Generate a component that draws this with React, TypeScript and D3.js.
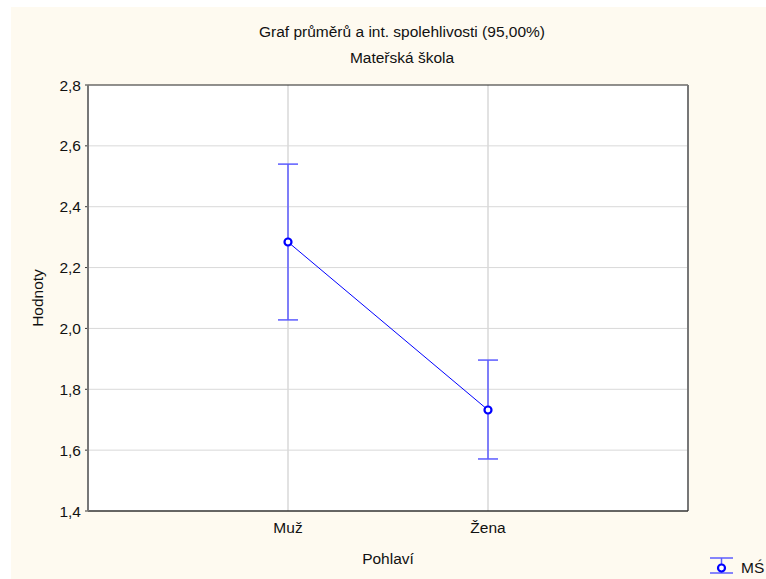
import React from "react";
import * as d3 from "d3";

const categories = ["Muž", "Žena"];
const means = [2.284, 1.732];
const lower = [2.028, 1.571];
const upper = [2.54, 1.896];
const yTicks = [1.4, 1.6, 1.8, 2.0, 2.2, 2.4, 2.6, 2.8];

const W = 766, H = 579;
const M = { left: 88, top: 85, right: 688, bottom: 511 };
const FONT = "'Liberation Sans', Arial, sans-serif";
const FS = 15.5;

export default function App() {
  const x = d3.scaleLinear().domain([0, 3]).range([M.left, M.right]);
  const y = d3.scaleLinear().domain([1.4, 2.8]).range([M.bottom, M.top]);
  const fmt = (v: number) => v.toFixed(1).replace(".", ",");
  const line = d3.line<number>().x((_, i) => x(i + 1)).y((d) => y(d));
  const errColor = "#5c5cff";
  const blue = "#0000ff";
  return (
    <svg width={W} height={H} style={{ position: "absolute", left: 0, top: 0 }}>
      <rect x={0} y={0} width={W} height={H} fill="#ffffff" />
      <rect x={11} y={7} width={W - 11} height={H - 7} fill="#fefaf0" />
      <rect x={M.left} y={M.top} width={M.right - M.left} height={M.bottom - M.top} fill="#ffffff" />
      {yTicks.map((t) => (
        <g key={t}>
          {t > 1.4 && t < 2.8 && (
            <line x1={M.left} x2={M.right} y1={y(t)} y2={y(t)} stroke="#d9d9d9" strokeWidth={1} />
          )}
          <line x1={M.left - 3} x2={M.left} y1={y(t)} y2={y(t)} stroke="#333" />
          <text x={M.left - 7} y={y(t)} dy="0.36em" textAnchor="end" fontFamily={FONT} fontSize={FS} fill="#111">
            {fmt(t)}
          </text>
        </g>
      ))}
      {categories.map((c, i) => (
        <g key={c}>
          <line x1={x(i + 1)} x2={x(i + 1)} y1={M.top} y2={M.bottom} stroke="#d9d9d9" strokeWidth={1.5} />
          <text x={x(i + 1)} y={533} textAnchor="middle" fontFamily={FONT} fontSize={FS} fill="#111">
            {c}
          </text>
        </g>
      ))}
      {/* frame */}
      <line x1={M.left} x2={M.right} y1={M.top} y2={M.top} stroke="#222" strokeWidth={1} />
      <line x1={M.right} x2={M.right} y1={M.top} y2={M.bottom} stroke="#777" strokeWidth={2} />
      <line x1={M.left} x2={M.right} y1={M.bottom} y2={M.bottom} stroke="#333" strokeWidth={1.5} />
      <line x1={M.left} x2={M.left} y1={M.top} y2={M.bottom} stroke="#777" strokeWidth={2} />
      {/* error bars */}
      {categories.map((c, i) => (
        <g key={"e" + c} stroke={errColor} strokeWidth={1.5}>
          <line x1={x(i + 1)} x2={x(i + 1)} y1={y(lower[i])} y2={y(upper[i])} />
          <line x1={x(i + 1) - 10} x2={x(i + 1) + 10} y1={y(upper[i])} y2={y(upper[i])} />
          <line x1={x(i + 1) - 10} x2={x(i + 1) + 10} y1={y(lower[i])} y2={y(lower[i])} />
        </g>
      ))}
      <path d={line(means) || ""} fill="none" stroke={blue} strokeWidth={1} />
      {means.map((m, i) => (
        <circle key={i} cx={x(i + 1)} cy={y(m)} r={3.5} fill="#ffffff" stroke={blue} strokeWidth={2.2} />
      ))}
      {/* titles */}
      <text x={402} y={37} textAnchor="middle" fontFamily={FONT} fontSize={FS} fill="#111">
        Graf průměrů a int. spolehlivosti (95,00%)
      </text>
      <text x={402} y={63} textAnchor="middle" fontFamily={FONT} fontSize={FS} fill="#111">
        Mateřská škola
      </text>
      <text x={388} y={564} textAnchor="middle" fontFamily={FONT} fontSize={FS} fill="#111">
        Pohlaví
      </text>
      <text transform={`translate(43,${298}) rotate(-90)`} textAnchor="middle" fontFamily={FONT} fontSize={FS} fill="#111">
        Hodnoty
      </text>
      {/* legend */}
      <g stroke={errColor} strokeWidth={1.5}>
        <line x1={710} x2={733} y1={558} y2={558} />
        <line x1={710} x2={733} y1={573} y2={573} />
        <line x1={721.5} x2={721.5} y1={558} y2={573} />
      </g>
      <circle cx={721.5} cy={568} r={3.5} fill="#ffffff" stroke={blue} strokeWidth={2.2} />
      <text x={741} y={573} fontFamily={FONT} fontSize={FS} fill="#111">MŚ</text>
    </svg>
  );
}
